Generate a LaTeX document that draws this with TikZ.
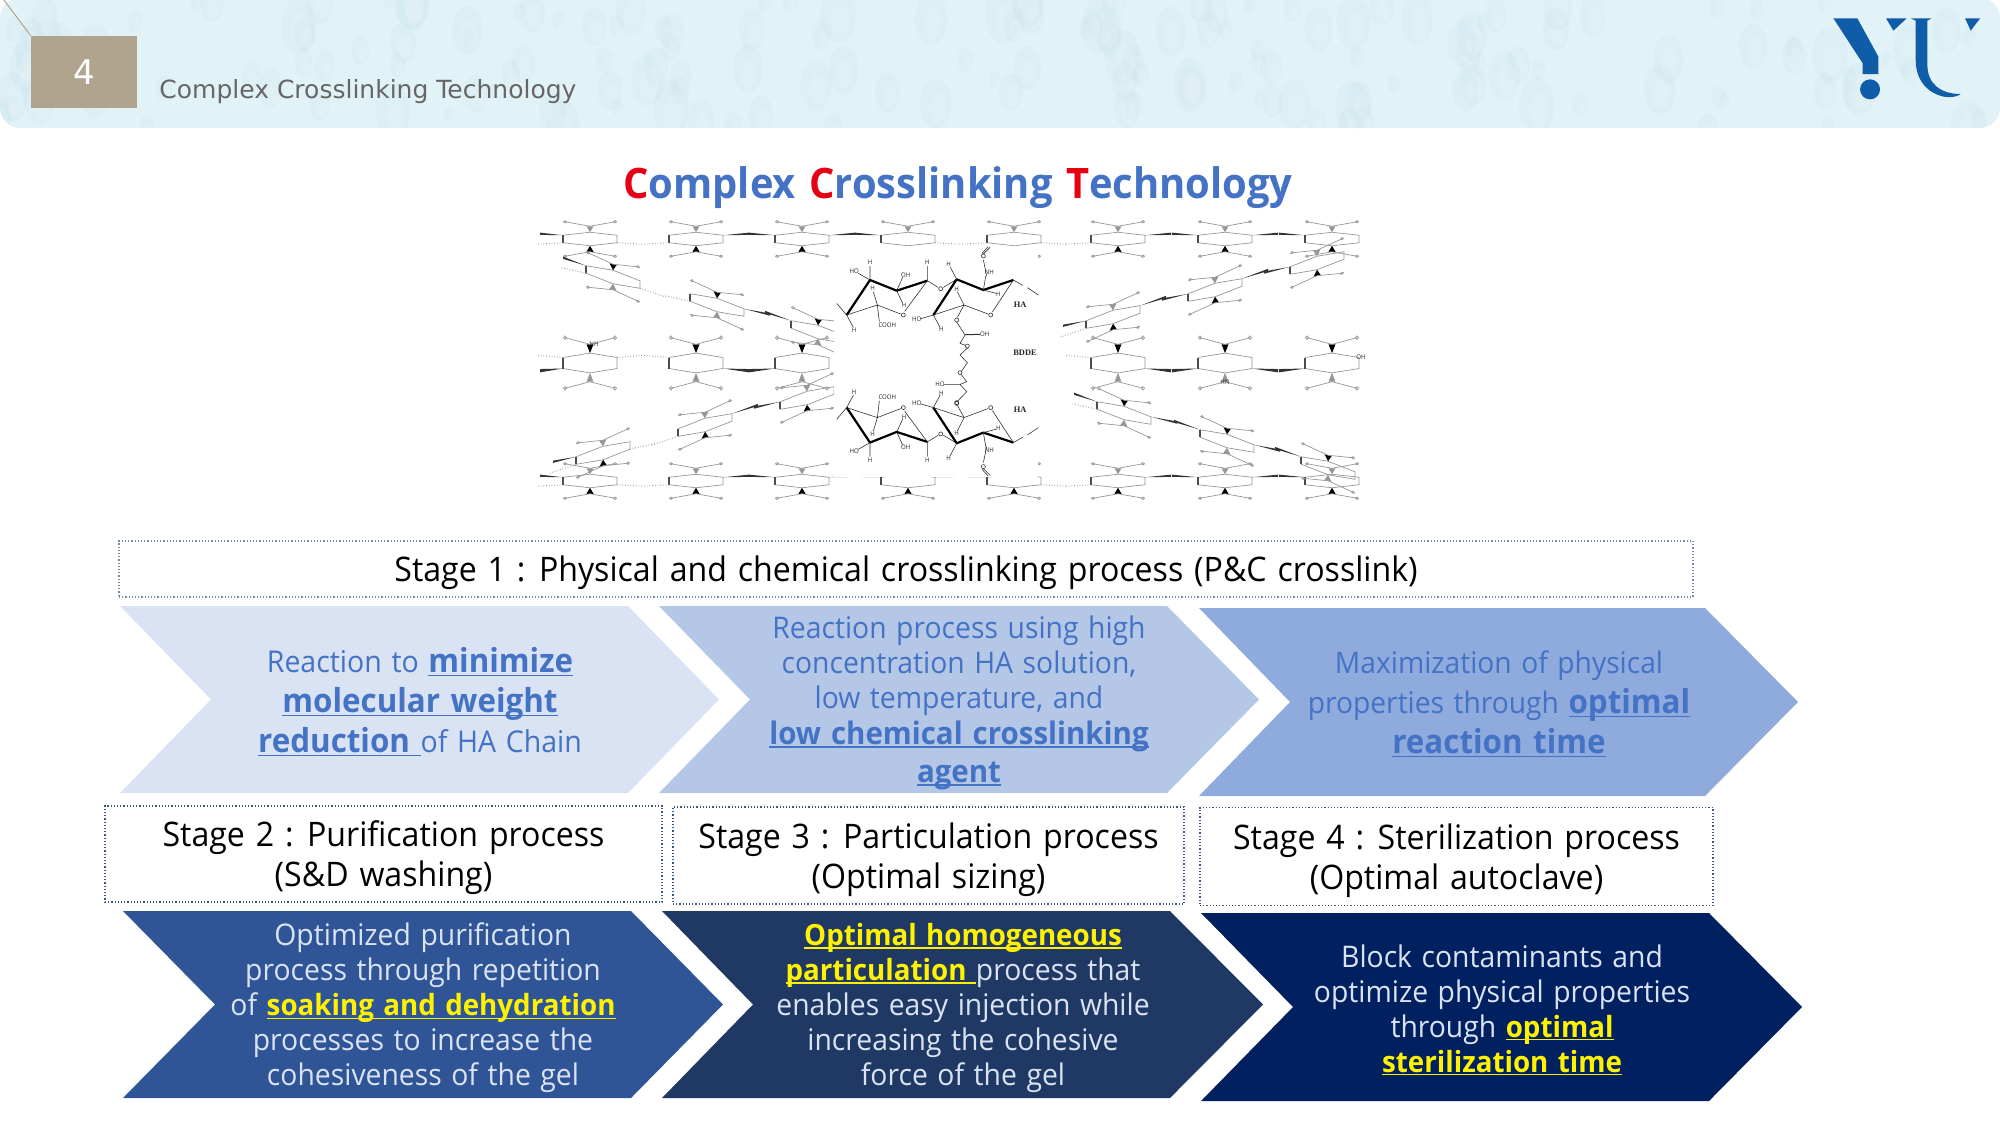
\documentclass[tikz,border=0pt]{standalone}
\usepackage{xcolor}
\usepackage{fontspec}
\setmainfont[FakeStretch=0.95,WordSpace=1.3]{Open Sans}
\newfontfamily\headfont{DejaVu Sans}
\newfontfamily\chemfont{Liberation Serif}
\usetikzlibrary{arrows.meta,positioning,calc}
\definecolor{mBand}{RGB}{226,243,247}
\definecolor{mDrop}{RGB}{205,230,238}
\definecolor{mTan}{RGB}{176,164,142}
\definecolor{mGrayText}{RGB}{102,102,102}
\definecolor{mLogo}{RGB}{15,92,168}
\definecolor{mTitle}{RGB}{68,114,196}
\definecolor{mRed}{RGB}{230,0,18}
\definecolor{mBoxLine}{RGB}{60,85,130}
\definecolor{mChevA}{RGB}{218,227,243}
\definecolor{mChevB}{RGB}{180,199,231}
\definecolor{mChevC}{RGB}{143,170,220}
\definecolor{mChevD}{RGB}{47,85,151}
\definecolor{mChevE}{RGB}{32,56,100}
\definecolor{mChevF}{RGB}{0,32,96}
\definecolor{mPale}{RGB}{218,227,243}
\definecolor{mRing}{RGB}{150,150,150}
\newsavebox{\ulbox}
\newcommand{\uline}[1]{\sbox{\ulbox}{#1}\rlap{\rule[-1.6pt]{\wd\ulbox}{0.7pt}}\usebox{\ulbox}}
\newcommand{\keyblue}[1]{{\fontsize{15.5}{17.5}\selectfont\bfseries\uline{#1}}}
\newcommand{\keybig}[1]{{\fontsize{16.5}{20}\selectfont\bfseries\uline{#1}}}
\newcommand{\keyyel}[1]{\textcolor{yellow}{\fontsize{14.6}{17.5}\selectfont\bfseries\uline{#1}}}
\newcommand{\topstrut}{\rule{0pt}{16.8pt}}
\newcommand{\chevron}[7]{% left, top, shoulder, tip, bottom, notch, colour
\pgfmathsetmacro\midy{(#2+#5)/2}
\fill[#7] (#1,#2)--(#3,#2)--(#4,\midy)--(#3,#5)--(#1,#5)--(#6,\midy)--cycle;}
\newcommand{\halflink}[3]{% direction, kind (0 thick, 1 dotted, 2 both, 3 none), side
\ifnum#2=0 \fill[black!80] (#1*27,#3*5)--(#1*53,#3*8.5)--(#1*53,#3*5.5)--cycle; \fi
\ifnum#2=2 \fill[black!80] (#1*27,#3*5)--(#1*50,#3*8.5)--(#1*50,#3*5.5)--cycle; \fi
\ifnum#2=1 \draw[ringline,densely dotted,line width=0.5pt] (#1*27,-#3*5)--(#1*53,-#3*7); \fi
\ifnum#2=2 \draw[ringline,densely dotted,line width=0.5pt] (#1*27,-#3*5)--(#1*53,-#3*7); \fi
}
\newcommand{\sugar}[9]{% x, y, slant, yscale, top wedge, bottom wedge, left link, right link, thick side
\begin{scope}[shift={(#1,#2)},yslant=#3,yscale=#4]
\draw[ringline] (-27,-5)--(0,-9)--(27,-5)--(27,5)--(0,9)--(-27,5);
\draw[ringline,draw=black!70,line width=0.7pt] (-27,-5)--(-27,5);
\fill[#5] (0,-9)--(-3.5,-17)--(3.5,-17)--cycle;
\fill[#6] (0,9)--(-3.5,17)--(3.5,17)--cycle;
\draw[ringline] (0,-17)--(25,-23) (0,-17)--(-25,-23) (0,17)--(-25,23) (0,17)--(25,23);
\draw[ringline] (25,-23) circle (1.6) (-25,-23) circle (1.6) (-25,23) circle (1.6) (25,23) circle (1.6);
\halflink{-1}{#7}{#9}
\halflink{1}{#8}{#9}
\end{scope}}
\newcommand{\haunit}{% drawn in the units of the central cut-out
\draw[hathin] (80,225)--(50,190) (80,225)--(100,262) (150,120)--(150,78) (150,120)--(115,100)
 (230,152)--(248,112) (230,152)--(248,190) (322,122)--(322,78) (172,195)--(160,155) (172,195)--(178,245);
\draw[hathick] (80,225)--(150,120);
\draw[hathick] (150,120)--(230,152)--(322,122);
\draw[hathin] (322,122)--(354,142) (370,142)--(410,118) (322,122)--(254,214) (242,222)--(172,195)--(80,225);
\draw[hathin] (250,225) circle (6) (362,146) circle (6);
\draw[hathick] (340,225)--(410,118)--(490,150)--(580,120);
\draw[hathin] (580,120)--(517,216) (504,222)--(432,195)--(340,225) (580,120)--(608,136) (622,143)--(655,165)
 (410,118)--(390,80) (490,150)--(497,108) (490,150)--(528,160) (432,195)--(412,155) (340,225)--(302,236)
 (340,225)--(360,262) (432,195)--(412,232) (500,108)--(490,60) (490,42)--(510,22) (486,40)--(504,20);
\draw[hathin] (512,225) circle (6) (410,240) circle (6) (490,48) circle (6);
\node[chemtext] (cooh) at (202,255) {COOH};
\node[chemtext] (ho1) at (103,95) {HO};
\node[chemtext] (oh1) at (257,107) {OH};
\node[chemtext] (ho2) at (290,238) {HO};
\node[chemtext] (nh) at (508,98) {NH};
\foreach \hx/\hy [count=\hi] in {150/68,322/68,386/72,252/197,158/145,102/272,364/269,410/148,535/163}
 \node[chemtext] (h\hi) at (\hx,\hy) {H};
}
\tikzset{
stagebox/.style={rectangle,draw=mBoxLine,densely dotted,line width=0.6pt,fill=white,inner sep=0pt,align=center,text=black,font=\fontsize{16.9}{20}\selectfont},
stepdark/.style={inner sep=0pt,align=center,text=mPale,font=\fontsize{14.9}{17.5}\selectfont},
steplight/.style={inner sep=0pt,align=center,text=mTitle,font=\fontsize{14.9}{17.5}\selectfont},
ringline/.style={draw=mRing,line width=0.35pt},
hathin/.style={draw=black!80,line width=0.3pt},
hathick/.style={draw=black,line width=1.1pt,line join=round},
chemtext/.style={inner sep=0pt,text=black!85,font=\fontsize{3.2}{4}\selectfont},
hatag/.style={inner sep=0pt,text=black!85,font=\chemfont\bfseries\fontsize{4.2}{5}\selectfont}
}
\begin{document}
\begin{tikzpicture}[x=0.5pt,y=-0.5pt]
\useasboundingbox (0,0) rectangle (2000,1125);
% header band
\begin{scope}
\clip[rounded corners=10pt] (0,-2) rectangle (2000,128);
\fill[mBand] (0,-2) rectangle (2000,128);
\pgfmathsetseed{11}
\foreach \i in {1,...,170}{
\pgfmathsetmacro\dx{rnd*2000}
\pgfmathsetmacro\dy{rnd*130}
\pgfmathsetmacro\dr{5+rnd*13}
\fill[mDrop,opacity=0.28] (\dx,\dy) ellipse [x radius=\dr,y radius=1.6*\dr];
\fill[white,opacity=0.14] (\dx+2,\dy+4) ellipse [x radius=0.55*\dr,y radius=\dr];
}
\end{scope}
\coordinate (cornerline) at (4,0);
\node[rectangle,fill=mTan,text=white,minimum width=53pt,minimum height=36pt,inner sep=0pt,font=\headfont\fontsize{17}{20}\selectfont] (badge) at (84,72) {4};
\draw[mTan,line width=0.5pt] (cornerline)--(badge.north west);
\node[anchor=base west,inner sep=0pt,text=mGrayText,font=\headfont\fontsize{12.5}{14}\selectfont] (headtitle) at (159,98) {Complex Crosslinking Technology};
% logo
\begin{scope}[shift={(1750,0)},x=0.1667pt,y=-0.1667pt]
\fill[mLogo] (250,55)--(322,55)--(385,170)--(385,222)--(338,222)--(338,190)--cycle;
\fill[mLogo] (408,55)--(470,55)--(430,92)--cycle;
\fill[mLogo] (360,268) circle (30);
\fill[mLogo] (482,55)--(545,55)--(532,62)--(532,195) .. controls (532,250) and (570,282) .. (632,282)
 .. controls (620,292) and (590,294) .. (570,287) .. controls (520,270) and (497,230) .. (497,180)--(497,62)--cycle;
\fill[mLogo] (645,55)--(690,55)--(662,92)--cycle;
\end{scope}
% title
\node[inner sep=0pt,text=mTitle,font=\bfseries\fontsize{21}{26}\selectfont] (maintitle) at (958,188)
 {\textcolor{mRed}{C}omplex \textcolor{mRed}{C}rosslinking \textcolor{mRed}{T}echnology};
% molecule, grey chains
\foreach \sx/\kl/\kr in {590/2/1,696/1/0,802/0/0,908/0/1,1014/1/1,1118/1/0,1225/0/0,1332/0/3}{
\sugar{\sx}{239}{0}{0.75}{mRing}{black}{\kl}{\kr}{-1}
}
\foreach \sx/\kl/\kr in {590/2/1,696/1/0,802/0/0,908/0/0,1014/0/1,1118/1/0,1225/0/0,1332/0/3}{
\sugar{\sx}{481}{0}{0.75}{mRing}{black}{\kl}{\kr}{-1}
}
\foreach \sx/\kl/\kr in {590/2/1,696/1/0,802/0/3,1118/1/0,1225/0/0,1332/0/3}{
\sugar{\sx}{363}{0}{1.1}{black}{mRing}{\kl}{\kr}{1}
}
\foreach \sx/\sy/\kl/\kr in {613/277/2/1,717/305/1/0,818/332/0/3,1124/413/2/0,1227/441/0/0,1328/468/0/3}{
\sugar{\sx}{\sy}{-0.28}{0.75}{black}{mRing}{\kl}{\kr}{-1}
}
\foreach \sx/\sy/\kl/\kr in {603/453/2/1,705/425/1/0,807/398/0/3,1113/317/2/0,1215/290/0/0,1317/263/0/3}{
\sugar{\sx}{\sy}{0.28}{0.75}{mRing}{black}{\kl}{\kr}{-1}
}
\node[chemtext] (midnh) at (594,344) {NH};
\node[chemtext] (midhn) at (1225,382) {HN};
\node[chemtext] (midoh) at (1361,357) {OH};
% molecule, central cut-out
\fill[white] (834,246) rectangle (1038,477);
\begin{scope}[shift={(820,240)},x=0.1667pt,y=-0.1667pt]
\begin{scope}[name prefix=up-]
\haunit
\end{scope}
\begin{scope}[name prefix=lo-,yshift=-121.3pt,yscale=-1]
\haunit
\end{scope}
\draw[hathin] (410,246)--(435,285)--(420,310)--(436,316) (442,324)--(420,345)--(442,368)--(424,394) (424,404)--(440,425)--(420,433)--(440,455)--(412,484);
\draw[hathin,line width=0.5pt] (435,284)--(480,283);
\draw[hathin] (442,318) circle (6) (420,398) circle (6) (410,490) circle (6) (420,433)--(372,433);
\node[chemtext] (oh2) at (494,283) {OH};
\node[chemtext] (ho3) at (360,433) {HO};
\node[hatag] (hatop) at (600,195) {HA};
\node[hatag] (bdde) at (615,338) {BDDE};
\node[hatag] (habot) at (600,510) {HA};
\end{scope}
% stage boxes
\node[stagebox,draw=mBoxLine!70,minimum width=787pt,minimum height=28pt] (stage1) at (906,569) {\topstrut Stage 1 : Physical and chemical crosslinking process (P\&C crosslink)};
\node[stagebox,minimum width=278.5pt,minimum height=48pt] (stage2) at (383.5,854) {\topstrut Stage 2 : Purification process\\(S\&D washing)};
\node[stagebox,minimum width=255.5pt,minimum height=48.5pt] (stage3) at (928.5,855.5) {\topstrut Stage 3 : Particulation process\\(Optimal sizing)};
\node[stagebox,minimum width=256.5pt,minimum height=49pt] (stage4) at (1456.5,856.5) {\topstrut Stage 4 : Sterilization process\\(Optimal autoclave)};
% chevrons
\chevron{120}{606}{628}{719}{793}{211}{mChevA}
\chevron{659}{606}{1167}{1259}{793}{750}{mChevB}
\chevron{1199}{608}{1705}{1798}{796}{1290}{mChevC}
\chevron{123}{911}{631}{723}{1098}{215}{mChevD}
\chevron{662}{911}{1170}{1263}{1098}{753}{mChevE}
\chevron{1201}{913}{1709}{1802}{1101}{1293}{mChevF}
\node[steplight,font=\fontsize{15}{20}\selectfont] (textA) at (420,702) {Reaction to \keybig{minimize}\\\keybig{molecular weight}\\\keybig{reduction\ }of HA Chain};
\node[steplight] (textB) at (959,703) {Reaction process using high\\concentration HA solution,\\low temperature, and\\[0.5pt]\keyblue{low chemical crosslinking}\\[1.5pt]\keyblue{agent}};
\node[steplight,font=\fontsize{14.85}{20}\selectfont] (textC) at (1499,704) {Maximization of physical\\properties through \keybig{optimal}\\\keybig{reaction time}};
\node[stepdark] (textD) at (423,1008) {Optimized purification\\process through repetition\\of \keyyel{soaking and dehydration}\\processes to increase the\\cohesiveness of the gel};
\node[stepdark] (textE) at (963,1008) {\keyyel{Optimal homogeneous}\\\keyyel{particulation\ }process that\\enables easy injection while\\increasing the cohesive\\force of the gel};
\node[stepdark] (textF) at (1502,1010) {Block contaminants and\\optimize physical properties\\through \keyyel{optimal}\\\keyyel{sterilization time}};
\end{tikzpicture}
\end{document}
